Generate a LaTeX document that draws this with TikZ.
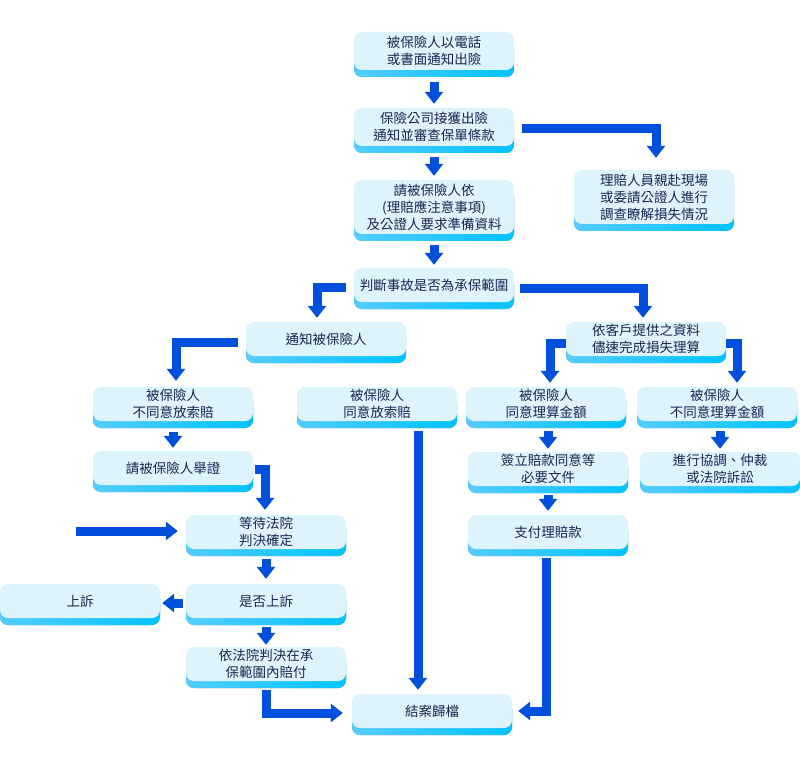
\documentclass[tikz,border=0pt]{standalone}
\usepackage{fontspec}
\newfontfamily\cjk{Noto Sans CJK TC}
\usetikzlibrary{arrows.meta,shadows}

\definecolor{boxfill}{HTML}{DDF4FC}
\definecolor{bandleft}{HTML}{55CCFF}
\definecolor{bandright}{HTML}{00C3FF}
\definecolor{flowblue}{HTML}{0050DC}
\definecolor{textnavy}{HTML}{1C2350}

\tikzset{
  box/.style={rectangle, rounded corners=8pt, fill=boxfill, text=textnavy,
    minimum width=160pt, minimum height=34pt, inner sep=0pt, align=center,
    font=\cjk\fontsize{13.5}{17}\selectfont,
    drop shadow={shadow xshift=0pt, shadow yshift=-7pt, opacity=1,
      left color=bandleft, right color=bandright}},
  flow/.style={draw=flowblue, line width=9pt,
    -{Triangle[width=18pt,length=12pt]}}
}

\begin{document}
\begin{tikzpicture}[x=1pt,y=-1pt]
	\useasboundingbox (0,0) rectangle (800,767);

	% Main column
	\node[box, minimum height=38pt] (n1) at (434,51) {被保險人以電話\\或書面通知出險};
	\node[box, minimum height=38pt] (n2) at (434,127) {保險公司接獲出險\\通知並審查保單條款};
	\node[box, minimum height=54pt] (n3) at (654,197) {理賠人員親赴現場\\或委請公證人進行\\調查瞭解損失情況};
	\node[box, minimum height=54pt] (n4) at (434,207) {請被保險人依\\(理賠應注意事項)\\及公證人要求準備資料};
	\node[box] (n5) at (434,285) {判斷事故是否為承保範圍};

	% Second level
	\node[box] (n6) at (326,339) {通知被保險人};
	\node[box] (n7) at (646,339) {依客戶提供之資料\\儘速完成損失理算};

	% Third level
	\node[box] (n8) at (173,404) {被保險人\\不同意放索賠};
	\node[box] (n9) at (377,404) {被保險人\\同意放索賠};
	\node[box] (n10) at (546,404) {被保險人\\同意理算金額};
	\node[box] (n11) at (717,404) {被保險人\\不同意理算金額};

	% Left branch
	\node[box] (n12) at (173,468) {請被保險人舉證};
	\node[box] (n13) at (266,532) {等待法院\\判決確定};
	\node[box] (n14) at (266,601) {是否上訴};
	\node[box] (n15) at (80,601) {上訴};
	\node[box] (n16) at (266,664) {依法院判決在承\\保範圍內賠付};

	% Right branches
	\node[box] (n18) at (548,469) {簽立賠款同意等\\必要文件};
	\node[box] (n19) at (548,532) {支付理賠款};
	\node[box] (n20) at (720,469) {進行協調、仲裁\\或法院訴訟};

	% End
	\node[box] (n17) at (432,711) {結案歸檔};

	\coordinate (courtin) at (76,531);

	% Arrows
	\draw[flow] ([yshift=-12pt]n1.south) -- ([yshift=4pt]n2.north);
	\draw[flow] ([xshift=8pt,yshift=-2pt]n2.east) -| ([xshift=2pt,yshift=12pt]n3.north);
	\draw[flow] ([yshift=-11pt]n2.south) -- ([yshift=4pt]n4.north);
	\draw[flow] ([yshift=-11pt]n4.south) -- ([yshift=3pt]n5.north);
	\draw[flow] ([xshift=-8pt,yshift=-2pt]n5.west) -| ([xshift=-9pt,yshift=4pt]n6.north);
	\draw[flow] ([xshift=6pt,yshift=-3pt]n5.east) -| ([xshift=-3pt,yshift=4pt]n7.north);
	\draw[flow] ([xshift=-8pt,yshift=-3pt]n6.west) -| ([xshift=3pt,yshift=6pt]n8.north);
	\draw[flow] ([yshift=-4pt]n7.west) -| ([xshift=4pt,yshift=4pt]n10.north);
	\draw[flow] ([yshift=-4pt]n7.east) -| ([xshift=20pt,yshift=4pt]n11.north);
	\draw[flow] ([yshift=-11pt]n8.south) -- ([yshift=3pt]n12.north);
	\draw[flow] ([xshift=2pt,yshift=-1pt]n12.east) -| ([xshift=-1pt,yshift=5pt]n13.north);
	\draw[flow] (courtin) -- ([xshift=-8pt]courtin -| n13.west);
	\draw[flow] ([yshift=-10pt]n13.south) -- ([yshift=5pt]n14.north);
	\draw[flow] ([xshift=-3pt,yshift=-2pt]n14.west) -- ([xshift=2pt,yshift=-2pt]n15.east);
	\draw[flow] ([yshift=-9pt]n14.south) -- ([yshift=2pt]n16.north);
	\draw[flow] ([yshift=-9pt]n16.south) |- ([xshift=-9pt,yshift=-2pt]n17.west);
	\draw[flow] ([xshift=41pt,yshift=-10pt]n9.south) -- ([xshift=-14pt,yshift=4pt]n17.north);
	\draw[flow] ([xshift=-2pt,yshift=-9pt]n19.south) |- ([xshift=6pt]n17.east);
	\draw[flow] ([xshift=2pt,yshift=-10pt]n10.south) -- ([yshift=3pt]n18.north);
	\draw[flow] ([yshift=-9pt]n18.south) -- ([yshift=4pt]n19.north);
	\draw[flow] ([xshift=3pt,yshift=-10pt]n11.south) -- ([yshift=3pt]n20.north);
\end{tikzpicture}
\end{document}
